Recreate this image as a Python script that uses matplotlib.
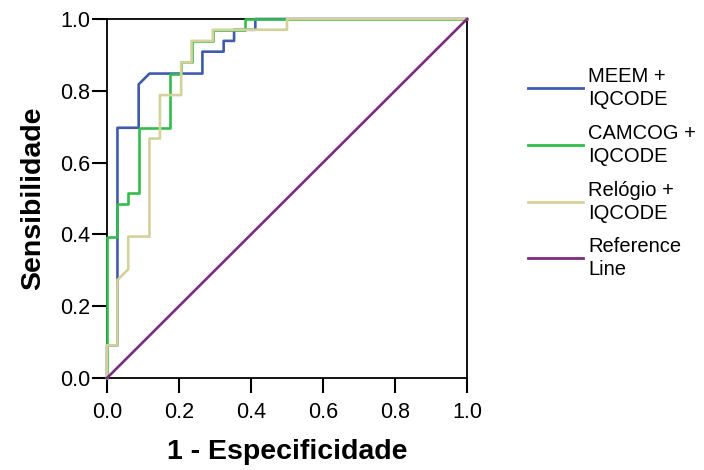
import matplotlib
matplotlib.use("Agg")
import matplotlib.pyplot as plt
from matplotlib.lines import Line2D

plt.rcParams['font.family'] = ['Liberation Sans', 'DejaVu Sans']

# ROC curve data (1 - specificity, sensitivity)
meem_fpr = [0, 0, 0.029, 0.029, 0.029, 0.088, 0.088, 0.118, 0.265, 0.265, 0.324, 0.324, 0.353, 0.353, 0.412, 0.412, 1.0]
meem_tpr = [0, 0.091, 0.091, 0.273, 0.697, 0.697, 0.818, 0.848, 0.848, 0.909, 0.909, 0.939, 0.939, 0.970, 0.970, 1.0, 1.0]

camcog_fpr = [0, 0, 0.029, 0.029, 0.059, 0.059, 0.088, 0.088, 0.176, 0.176, 0.206, 0.206, 0.235, 0.235, 0.294, 0.294, 0.382, 0.382, 1.0]
camcog_tpr = [0, 0.394, 0.394, 0.485, 0.485, 0.515, 0.515, 0.697, 0.697, 0.848, 0.848, 0.879, 0.879, 0.939, 0.939, 0.970, 0.970, 1.0, 1.0]

relogio_fpr = [0, 0, 0.029, 0.029, 0.059, 0.059, 0.118, 0.118, 0.147, 0.147, 0.206, 0.206, 0.235, 0.235, 0.294, 0.294, 0.5, 0.5, 1.0]
relogio_tpr = [0, 0.091, 0.091, 0.273, 0.303, 0.394, 0.394, 0.667, 0.667, 0.788, 0.788, 0.879, 0.879, 0.939, 0.939, 0.970, 0.970, 1.0, 1.0]

ref_x = [0, 1]
ref_y = [0, 1]

labels = ["MEEM +\nIQCODE", "CAMCOG +\nIQCODE", "Relógio +\nIQCODE", "Reference\nLine"]
colors = ["#3F5BAA", "#33BB4C", "#D4D19A", "#7D2A80"]
ticks = [0.0, 0.2, 0.4, 0.6, 0.8, 1.0]
tick_labels = ["0.0", "0.2", "0.4", "0.6", "0.8", "1.0"]

W, H = 704, 470
fig = plt.figure(figsize=(W/100, H/100), dpi=100)
ax = fig.add_axes([107/W, 1 - 378/H, 360/W, 359/H])

series = [(meem_fpr, meem_tpr), (camcog_fpr, camcog_tpr), (relogio_fpr, relogio_tpr), (ref_x, ref_y)]
for (x, y), c, lab in zip(series, colors, labels):
    ax.plot(x, y, color=c, lw=1.9, label=lab, clip_on=False, zorder=3)

ax.set_xlim(0, 1)
ax.set_ylim(0, 1)
ax.set_xticks(ticks)
ax.set_xticklabels(tick_labels)
ax.set_yticks(ticks)
ax.set_yticklabels(tick_labels)
ax.tick_params(axis='both', direction='out', length=11, width=1.5, labelsize=15.5, colors='black')
ax.tick_params(axis='y', pad=1)
ax.tick_params(axis='x', pad=6)
for s in ax.spines.values():
    s.set_linewidth(1.3)
    s.set_color('black')

ax.set_xlabel("1 - Especificidade", fontsize=20.5, fontweight='bold', labelpad=12)
ax.set_ylabel("Sensibilidade", fontsize=20.5, fontweight='bold', labelpad=10)

# Legend drawn manually to match the reference layout
leg_y = [88, 145, 202, 258]
for yy, c, lab in zip(leg_y, colors, labels):
    fy = 1 - yy / H
    fig.add_artist(Line2D([528/W, 583/W], [fy, fy], color=c, lw=2, transform=fig.transFigure))
    fig.text(588/W, fy, lab, fontsize=14.5, va='center', ha='left', linespacing=1.3)

fig.savefig("out.png", dpi=100)
